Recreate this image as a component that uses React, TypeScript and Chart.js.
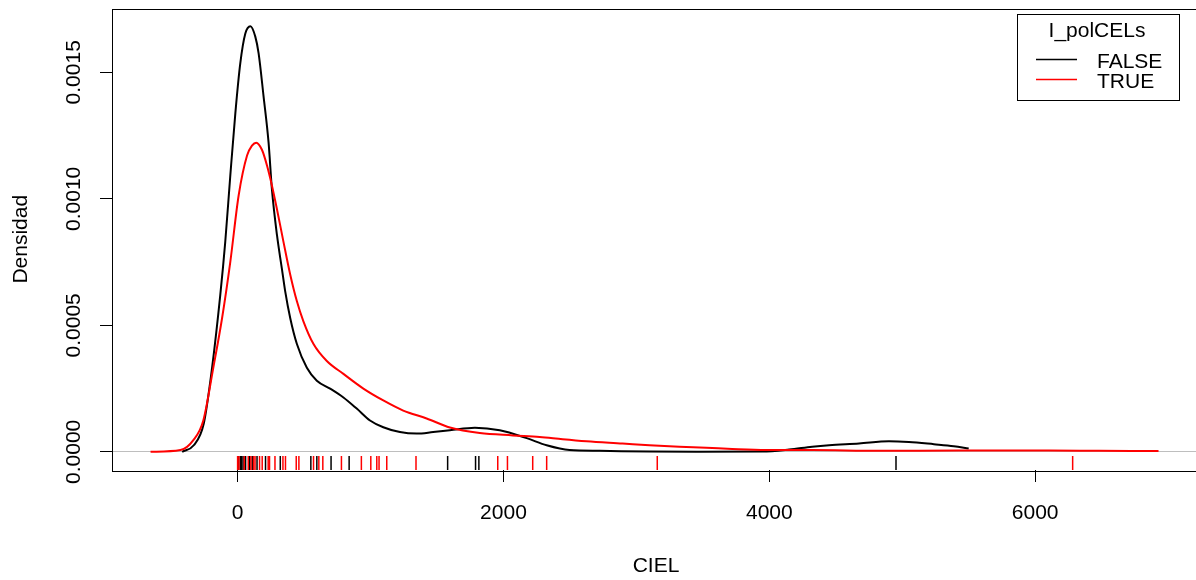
import { useEffect, useRef } from 'react';
import { Chart, registerables } from 'chart.js';

Chart.register(...registerables);

// ---- data ----
const FALSE_X = [-417, -330, -255, -192, -130, -93, -55, -17, 20, 58, 96, 133, 158, 195, 233, 258, 296, 333, 358, 396, 446, 521, 596, 696, 796, 896, 996, 1096, 1221, 1347, 1471, 1597, 1785, 1972, 2175, 2325, 2497, 2722, 3098, 3473, 3947, 4149, 4322, 4450, 4675, 4900, 5050, 5238, 5388, 5500];
const FALSE_Y = [0, 0.000026, 0.000111, 0.000333, 0.000622, 0.00083, 0.001092, 0.001339, 0.001535, 0.001653, 0.001682, 0.001641, 0.001575, 0.001406, 0.001222, 0.001038, 0.000857, 0.000724, 0.000634, 0.000528, 0.000426, 0.000332, 0.000281, 0.00025, 0.000215, 0.000171, 0.000124, 0.000097, 0.000078, 0.000072, 0.000078, 0.000085, 0.000095, 0.000085, 0.000054, 0.000026, 0.000007, 0.000004, 0.000001, 0, 0.000001, 0.000009, 0.00002, 0.000026, 0.000033, 0.000042, 0.000039, 0.00003, 0.000022, 0.000013];

const TRUE_X = [-655, -430, -333, -258, -183, -117, -55, 8, 71, 108, 140, 183, 221, 258, 296, 345, 396, 446, 495, 571, 671, 796, 946, 1096, 1246, 1422, 1597, 1822, 2070, 2272, 2445, 2625, 2896, 3098, 3323, 3526, 3721, 3976, 4322, 4825, 5426, 6102, 6477, 6928];
const TRUE_Y = [0, 0.000007, 0.000046, 0.000124, 0.000332, 0.000528, 0.000751, 0.001014, 0.001171, 0.00121, 0.001222, 0.001194, 0.001132, 0.001053, 0.000959, 0.00083, 0.0007, 0.000595, 0.000516, 0.000426, 0.000359, 0.000308, 0.00025, 0.000203, 0.000163, 0.000132, 0.000096, 0.000074, 0.000065, 0.000059, 0.00005, 0.000042, 0.000033, 0.000026, 0.00002, 0.000016, 0.000011, 0.000007, 0.000007, 0.000004, 0.000005, 0.000005, 0.000004, 0.000003];

const RUG_FALSE = [5, 20, 30, 41, 60, 90, 110, 146, 210, 321, 551, 596, 703, 839, 1580, 1790, 1815, 4953];
const RUG_TRUE = [0, 10, 50, 80, 100, 120, 131, 165, 185, 230, 240, 281, 341, 360, 441, 461, 571, 611, 641, 781, 931, 1002, 1047, 1064, 1122, 1342, 1957, 2030, 2220, 2325, 3157, 6282];

const X_TICKS = [0, 2000, 4000, 6000];
const X_TICK_LABELS = ['0', '2000', '4000', '6000'];
const Y_TICKS = [0, 0.0005, 0.001, 0.0015];
const Y_TICK_LABELS = ['0.0000', '0.0005', '0.0010', '0.0015'];

const GROUPS = ['FALSE', 'TRUE'];
const LEGEND_TITLE = 'I_polCELs';
const X_TITLE = 'CIEL';
const Y_TITLE = 'Densidad';

// ---- layout / style ----
const X_MIN = -945;
const X_MAX = 7240;
const Y_MIN = -0.0000718;
const Y_MAX = 0.0017522;
const RUG_Y = -0.0000443;
const COLORS = ['#000000', '#ff0000'];
const FONT = '21px "Liberation Sans", Arial, sans-serif';

const decor = {
  id: 'decor',
  afterDraw(chart: any) {
    const { ctx, chartArea: a, scales } = chart;
    const xs = scales.x;
    const ys = scales.y;
    ctx.save();
    // plot box
    ctx.strokeStyle = '#000';
    ctx.lineWidth = 1;
    ctx.strokeRect(Math.round(a.left) + 0.5, Math.round(a.top) + 0.5, Math.round(a.right - a.left), Math.round(a.bottom - a.top));

    ctx.fillStyle = '#000';
    ctx.font = FONT;
    ctx.textAlign = 'center';
    ctx.textBaseline = 'alphabetic';
    // x tick labels
    X_TICKS.forEach((v, i) => {
      ctx.fillText(X_TICK_LABELS[i], xs.getPixelForValue(v), 519);
    });
    // y tick labels (rotated)
    Y_TICKS.forEach((v, i) => {
      ctx.save();
      ctx.translate(80, ys.getPixelForValue(v));
      ctx.rotate(-Math.PI / 2);
      ctx.fillText(Y_TICK_LABELS[i], 0, 0);
      ctx.restore();
    });
    // axis titles
    ctx.fillText(X_TITLE, (a.left + a.right) / 2, 572);
    ctx.save();
    ctx.translate(27, (a.top + a.bottom) / 2);
    ctx.rotate(-Math.PI / 2);
    ctx.fillText(Y_TITLE, 0, 0);
    ctx.restore();

    // legend
    ctx.strokeStyle = '#000';
    ctx.lineWidth = 1;
    ctx.strokeRect(1017.5, 14.5, 162, 86);
    ctx.fillText(LEGEND_TITLE, 1097, 37);
    ctx.textAlign = 'left';
    GROUPS.forEach((g, i) => {
      const y = 59.5 + i * 20;
      ctx.strokeStyle = COLORS[i];
      ctx.lineWidth = 1.5;
      ctx.beginPath();
      ctx.moveTo(1036, y);
      ctx.lineTo(1077, y);
      ctx.stroke();
      ctx.fillText(g, 1097, 68 + i * 20);
    });
    ctx.restore();
  },
};

export default function App() {
  const ref = useRef<HTMLCanvasElement | null>(null);

  useEffect(() => {
    if (!ref.current) return;
    const curve = (xsArr: number[], ysArr: number[]) => xsArr.map((x, i) => ({ x, y: ysArr[i] }));
    const rug = (arr: number[]) => arr.map((x) => ({ x, y: RUG_Y }));
    const chart = new Chart(ref.current, {
      type: 'scatter',
      data: {
        datasets: [
          {
            label: GROUPS[0],
            data: curve(FALSE_X, FALSE_Y),
            showLine: true,
            borderColor: COLORS[0],
            backgroundColor: COLORS[0],
            borderWidth: 2,
            pointRadius: 0,
            cubicInterpolationMode: 'monotone',
            order: 3,
          },
          {
            label: GROUPS[1],
            data: curve(TRUE_X, TRUE_Y),
            showLine: true,
            borderColor: COLORS[1],
            backgroundColor: COLORS[1],
            borderWidth: 2,
            pointRadius: 0,
            cubicInterpolationMode: 'monotone',
            order: 2,
          },
          {
            label: 'rug ' + GROUPS[0],
            data: rug(RUG_FALSE),
            showLine: false,
            pointStyle: 'line',
            rotation: 90,
            pointRadius: 7,
            borderColor: COLORS[0],
            borderWidth: 1.5,
            order: 1,
          },
          {
            label: 'rug ' + GROUPS[1],
            data: rug(RUG_TRUE),
            showLine: false,
            pointStyle: 'line',
            rotation: 90,
            pointRadius: 7,
            borderColor: COLORS[1],
            borderWidth: 1.5,
            order: 0,
          },
        ],
      },
      options: {
        responsive: false,
        animation: false,
        devicePixelRatio: 1,
        layout: { padding: { left: 0, right: 10, top: 2, bottom: 0 } },
        plugins: { legend: { display: false }, tooltip: { enabled: false } },
        events: [],
        scales: {
          x: {
            type: 'linear',
            min: X_MIN,
            max: X_MAX,
            border: { display: false },
            grid: { display: true, drawOnChartArea: false, drawTicks: true, tickLength: 12, tickColor: '#000', color: '#000' },
            ticks: { display: false },
            afterBuildTicks: (s: any) => { s.ticks = X_TICKS.map((v) => ({ value: v })); },
            afterFit: (s: any) => { s.height = 110; },
          },
          y: {
            type: 'linear',
            min: Y_MIN,
            max: Y_MAX,
            border: { display: false },
            grid: {
              display: true,
              drawOnChartArea: true,
              drawTicks: true,
              tickLength: 12,
              tickColor: '#000',
              color: (c: any) => (c.tick && c.tick.value === 0 ? '#bebebe' : 'rgba(0,0,0,0)'),
            },
            ticks: { display: false },
            afterBuildTicks: (s: any) => { s.ticks = Y_TICKS.map((v) => ({ value: v })); },
            afterFit: (s: any) => { s.width = 112; },
          },
        },
      } as any,
      plugins: [decor],
    });
    return () => chart.destroy();
  }, []);

  return (
    <div style={{ position: 'fixed', left: 0, top: 0, width: 1196, height: 580, overflow: 'hidden', background: '#fff' }}>
      <canvas ref={ref} width={1210} height={580} style={{ display: 'block', width: 1210, height: 580 }} />
    </div>
  );
}
